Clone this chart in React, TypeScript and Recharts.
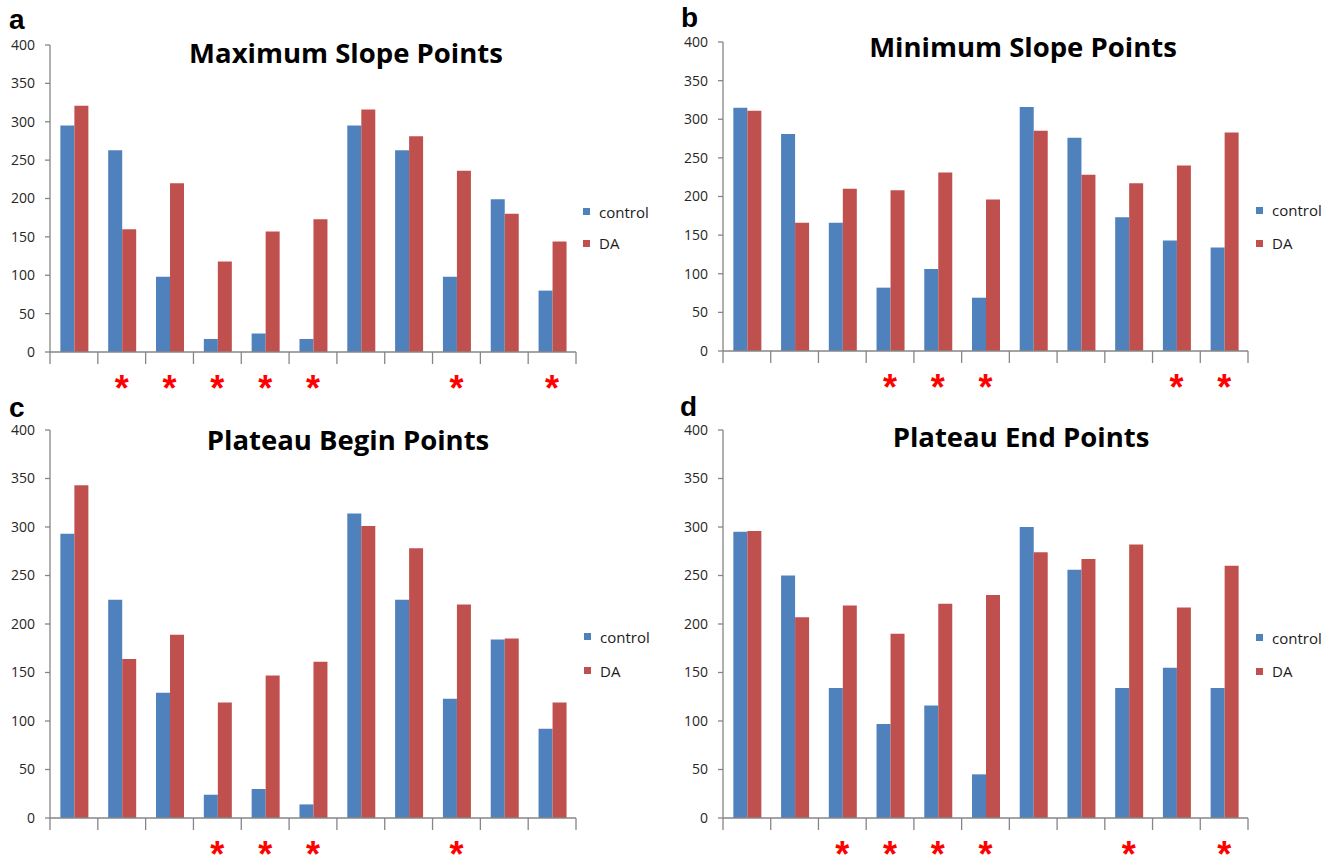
import React from 'react';
import { BarChart, Bar, XAxis, YAxis, Legend } from 'recharts';

// ---------- data ----------
const categories = ['1', '2', '3', '4', '5', '6', '7', '8', '9', '10', '11'];
const yTicks = [0, 50, 100, 150, 200, 250, 300, 350, 400];
const seriesNames = ['control', 'DA'];

const maxSlopeControl = [295, 263, 98, 17, 24, 17, 295, 263, 98, 199, 80];
const maxSlopeDA = [321, 160, 220, 118, 157, 173, 316, 281, 236, 180, 144];
const maxSlopeMarks = ['', '*', '*', '*', '*', '*', '', '', '*', '', '*'];

const minSlopeControl = [315, 281, 166, 82, 106, 69, 316, 276, 173, 143, 134];
const minSlopeDA = [311, 166, 210, 208, 231, 196, 285, 228, 217, 240, 283];
const minSlopeMarks = ['', '', '', '*', '*', '*', '', '', '', '*', '*'];

const plateauBeginControl = [293, 225, 129, 24, 30, 14, 314, 225, 123, 184, 92];
const plateauBeginDA = [343, 164, 189, 119, 147, 161, 301, 278, 220, 185, 119];
const plateauBeginMarks = ['', '', '', '*', '*', '*', '', '', '*', '', ''];

const plateauEndControl = [295, 250, 134, 97, 116, 45, 300, 256, 134, 155, 134];
const plateauEndDA = [296, 207, 219, 190, 221, 230, 274, 267, 282, 217, 260];
const plateauEndMarks = ['', '', '*', '*', '*', '*', '', '', '*', '', '*'];

// ---------- style ----------
const AXIS = '#868686';
const BLUE = '#4F81BD';
const RED = '#C0504D';
const FONT = "'Open Sans', 'DejaVu Sans', sans-serif";

function makeXTick(halfBand: number, count: number, marks: string[]) {
  return (props: any) => {
    const { x, y, index } = props;
    const left = x - halfBand;
    return (
      <g>
        <line x1={left} x2={left} y1={y} y2={y + 12} stroke={AXIS} strokeWidth={1.3} />
        {index === count - 1 ? (
          <line x1={x + halfBand} x2={x + halfBand} y1={y} y2={y + 12} stroke={AXIS} strokeWidth={1.3} />
        ) : null}
        {marks[index] ? (
          <text
            x={x}
            y={y + 49}
            textAnchor="middle"
            fill="#FF0000"
            fontFamily="'Liberation Sans', Arial, sans-serif"
            fontWeight="bold"
            fontSize={36}
          >
            {marks[index]}
          </text>
        ) : null}
      </g>
    );
  };
}

function makeLegend(rowH: number) {
  return (props: any) => {
    const payload = [...(props.payload || [])].sort(
      (a: any, b: any) => seriesNames.indexOf(a.value) - seriesNames.indexOf(b.value)
    );
    return (
      <div style={{ fontFamily: FONT, fontSize: 15, color: '#1a1a1a', whiteSpace: 'nowrap' }}>
        {payload.map((p: any, i: number) => (
          <div key={i} style={{ display: 'flex', alignItems: 'center', height: rowH }}>
            <span style={{ display: 'inline-block', width: 7, height: 7, background: p.color, marginRight: 9 }} />
            <span>{p.value}</span>
          </div>
        ))}
      </div>
    );
  };
}

type PanelProps = {
  left: number;
  top: number;
  width: number;
  height: number;
  yAxisWidth: number;
  marginTop: number;
  marginRight: number;
  marginBottom: number;
  xAxisHeight: number;
  control: number[];
  da: number[];
  marks: string[];
  legendLeft: number;
  legendTop: number;
  legendRow: number;
};

function Panel(p: PanelProps) {
  const data = categories.map((c, i) => ({ cat: c, control: p.control[i], da: p.da[i] }));
  const plotW = p.width - p.yAxisWidth - p.marginRight;
  const halfBand = plotW / categories.length / 2;
  return (
    <div style={{ position: 'absolute', left: p.left, top: p.top, width: p.width, height: p.height }}>
      <BarChart
        width={p.width}
        height={p.height}
        data={data}
        margin={{ top: p.marginTop, right: p.marginRight, bottom: p.marginBottom, left: 0 }}
        barCategoryGap="21.7%"
        barGap={0}
      >
        <XAxis
          dataKey="cat"
          height={p.xAxisHeight}
          axisLine={{ stroke: AXIS, strokeWidth: 1.3 }}
          tickLine={false}
          tickSize={0}
          tickMargin={0}
          interval={0}
          tick={makeXTick(halfBand, categories.length, p.marks)}
        />
        <YAxis
          type="number"
          width={p.yAxisWidth}
          domain={[0, 400]}
          ticks={yTicks}
          interval={0}
          axisLine={{ stroke: AXIS, strokeWidth: 1.3 }}
          tickLine={{ stroke: AXIS, strokeWidth: 1.3 }}
          tickSize={5}
          tickMargin={10}
          tick={{ fill: '#262626', fontFamily: FONT, fontSize: 14 }}
        />
        <Legend
          layout="vertical"
          align="center"
          verticalAlign="middle"
          wrapperStyle={{ left: p.legendLeft, top: p.legendTop, width: 'auto', height: 'auto' }}
          content={makeLegend(p.legendRow)}
        />
        <Bar dataKey="control" name={seriesNames[0]} fill={BLUE} isAnimationActive={false} />
        <Bar dataKey="da" name={seriesNames[1]} fill={RED} isAnimationActive={false} />
      </BarChart>
    </div>
  );
}

const titleStyle = { fontFamily: FONT, fontWeight: 700, fontSize: 27.5, fill: '#000' } as const;
const letterStyle = { fontFamily: "'Liberation Sans', Arial, sans-serif", fontWeight: 700, fontSize: 28, fill: '#000' } as const;

export default function App() {
  return (
    <div style={{ position: 'absolute', left: 0, top: 0, width: 1333, height: 860, background: '#fff', overflow: 'hidden' }}>
      <Panel
        left={0} top={0} width={666} height={420}
        yAxisWidth={50} marginTop={45} marginRight={90} marginBottom={20} xAxisHeight={48}
        control={maxSlopeControl} da={maxSlopeDA} marks={maxSlopeMarks}
        legendLeft={583} legendTop={196} legendRow={31.6}
      />
      <Panel
        left={660} top={0} width={673} height={420}
        yAxisWidth={63} marginTop={42} marginRight={85} marginBottom={20} xAxisHeight={49}
        control={minSlopeControl} da={minSlopeDA} marks={minSlopeMarks}
        legendLeft={596} legendTop={194} legendRow={32.8}
      />
      <Panel
        left={0} top={400} width={666} height={460}
        yAxisWidth={50} marginTop={30} marginRight={90} marginBottom={0} xAxisHeight={42}
        control={plateauBeginControl} da={plateauBeginDA} marks={plateauBeginMarks}
        legendLeft={584} legendTop={220} legendRow={33.7}
      />
      <Panel
        left={660} top={400} width={673} height={460}
        yAxisWidth={63} marginTop={30} marginRight={85} marginBottom={0} xAxisHeight={42}
        control={plateauEndControl} da={plateauEndDA} marks={plateauEndMarks}
        legendLeft={596} legendTop={221} legendRow={33.5}
      />
      <svg width={1333} height={860} style={{ position: 'absolute', left: 0, top: 0, pointerEvents: 'none' }}>
        <text x={9} y={29} style={letterStyle}>a</text>
        <text x={681} y={27} style={letterStyle}>b</text>
        <text x={9} y={417} style={letterStyle}>c</text>
        <text x={680} y={416} style={letterStyle}>d</text>
        <text x={346} y={63} textAnchor="middle" style={titleStyle}>Maximum Slope Points</text>
        <text x={1023} y={57} textAnchor="middle" style={titleStyle}>Minimum Slope Points</text>
        <text x={348} y={450} textAnchor="middle" style={titleStyle}>Plateau Begin Points</text>
        <text x={1021} y={447} textAnchor="middle" style={titleStyle}>Plateau End Points</text>
      </svg>
    </div>
  );
}
